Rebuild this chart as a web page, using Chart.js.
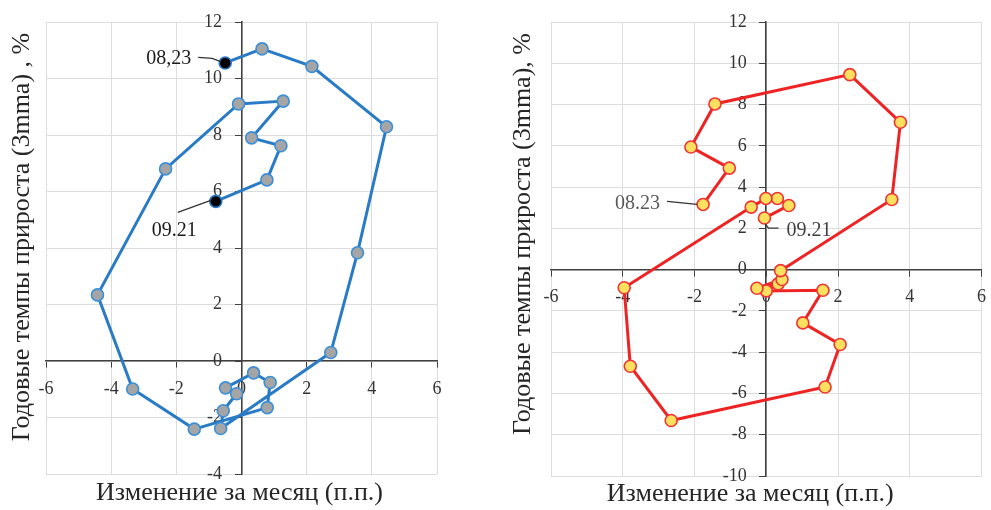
<!DOCTYPE html>
<html>
<head>
<meta charset="utf-8">
<script src="https://cdn.jsdelivr.net/npm/chart.js@4.4.1/dist/chart.umd.min.js"></script>
<style>
  body { margin: 0; background: #fff; width: 991px; height: 510px; overflow: hidden; position: relative; }
  .panel { position: absolute; top: 0; height: 510px; }
  #left { left: 0; width: 480px; }
  #right { left: 500px; width: 497px; }
</style>
</head>
<body>
<div class="panel" id="left"><canvas id="chartLeft"></canvas></div>
<div class="panel" id="right"><canvas id="chartRight"></canvas></div>
<script>
// left panel: 09.21 .. 08.23, x = month change (p.p.), y = annual growth (3mma)
const leftX = [-0.79, 0.78, 1.21, 0.31, 1.28, -0.09, -2.33, -4.42, -3.34, -1.45, 0.79, 0.88, 0.37,
  -0.49, -0.15, -0.56, -0.64, 2.74, 3.56, 4.45, 2.16, 0.63, -0.50];
const leftY = [5.65, 6.41, 7.62, 7.90, 9.20, 9.10, 6.80, 2.34, -0.99, -2.41, -1.65, -0.76, -0.42,
  -0.95, -1.16, -1.76, -2.39, 0.30, 3.83, 8.29, 10.43, 11.05, 10.55];

// right panel
const rightX = [-0.05, 0.63, 0.31, -0.01, -0.42, -3.96, -3.79, -2.65, 1.64, 2.06, 1.02, 1.58, 0.00,
  0.33, -0.26, 0.44, 0.40, 3.50, 3.74, 2.33, -1.43, -2.10, -1.03, -1.76];
const rightY = [2.50, 3.11, 3.45, 3.45, 3.03, -0.88, -4.68, -7.31, -5.69, -3.63, -2.58, -1.00, -1.03,
  -0.69, -0.90, -0.48, -0.05, 3.40, 7.14, 9.45, 8.03, 5.94, 4.92, 3.16];

const xTicks = [-6, 6, 2];          // min, max, step
const leftYTicks = [-4, 12, 2];
const rightYTicks = [-10, 12, 2];

const xTitle = "Изменение за месяц (п.п.)";
const leftYTitle = "Годовые темпы прироста (3mma) , %";
const rightYTitle = "Годовые темпы прироста (3mma), %";

const SERIF = "'Liberation Serif', 'Times New Roman', serif";
// y labels of an axis placed at x=0 sit right on the line, push them off it
const Y_LABEL_GAP = "\u2007\u2007\u200A";

// titles + point callouts
const decorPlugin = {
  id: "decor",
  afterDatasetsDraw(chart, args, opts) {
    const ctx = chart.ctx;
    const area = chart.chartArea;
    const meta = chart.getDatasetMeta(0);
    ctx.save();

    (opts.notes || []).forEach((n) => {
      const pt = meta.data[n.index];
      ctx.strokeStyle = n.lineColor;
      ctx.lineWidth = 1.3;
      ctx.beginPath();
      n.path.forEach(([dx, dy], i) => {
        if (i === 0) ctx.moveTo(pt.x + dx, pt.y + dy);
        else ctx.lineTo(pt.x + dx, pt.y + dy);
      });
      ctx.stroke();
      ctx.font = "20px " + SERIF;
      ctx.fillStyle = n.color;
      ctx.textAlign = n.align;
      ctx.textBaseline = "middle";
      ctx.fillText(n.text, pt.x + n.at[0], pt.y + n.at[1]);
    });
    ctx.restore();

    ctx.save();
    ctx.fillStyle = "#262626";
    ctx.textAlign = "center";
    ctx.textBaseline = "middle";
    ctx.font = opts.xFont + "px " + SERIF;
    ctx.fillText(opts.xTitle, (area.left + area.right) / 2 + opts.xShift, area.bottom + opts.xGap);
    ctx.font = opts.yFont + "px " + SERIF;
    ctx.translate(opts.yX, (area.top + area.bottom) / 2 + opts.yShift);
    ctx.rotate(-Math.PI / 2);
    ctx.fillText(opts.yTitle, 0, 0);
    ctx.restore();
  }
};

function axisCfg(ticks, pos) {
  const isX = pos.y !== undefined;
  return {
    type: "linear",
    min: ticks[0],
    max: ticks[1],
    position: pos,
    ticks: {
      stepSize: ticks[2],
      autoSkip: false,
      maxRotation: 0,
      color: "#333",
      padding: 11,
      font: { family: SERIF, size: 18 },
      callback: (v) => isX ? String(v) : v + Y_LABEL_GAP
    },
    grid: { color: "#dcdcdc", lineWidth: 1, tickColor: "#404040", tickLength: 6 },
    border: { color: "#404040", width: 1.6 }
  };
}

function makeChart(id, xs, ys, yTicks, look, padding, decor) {
  const points = xs.map((x, i) => ({ x, y: ys[i] }));
  return new Chart(document.getElementById(id), {
    type: "line",
    data: {
      datasets: [{
        data: points,
        borderColor: look.line,
        borderWidth: 3,
        tension: 0,
        pointRadius: 6,
        pointBorderWidth: 1.6,
        pointBackgroundColor: points.map((p, i) => look.dark.includes(i) ? "#000" : look.fill),
        pointBorderColor: points.map((p, i) => look.dark.includes(i) ? look.line : look.rim)
      }]
    },
    options: {
      responsive: true,
      maintainAspectRatio: false,
      animation: false,
      layout: { padding },
      plugins: { legend: { display: false }, tooltip: { enabled: false }, decor },
      scales: {
        x: axisCfg(xTicks, { y: 0 }),
        y: axisCfg(yTicks, { x: 0 })
      }
    },
    plugins: [decorPlugin]
  });
}

makeChart("chartLeft", leftX, leftY, leftYTicks,
  { line: "#2a7bc6", fill: "#a5a5a5", rim: "#3b8fd8", dark: [0, leftX.length - 1] },
  { top: 22, left: 46, right: 43, bottom: 36 },
  {
    xTitle, yTitle: leftYTitle, xFont: 26, yFont: 26,
    xShift: -2, xGap: 19, yX: 22, yShift: -11,
    notes: [
      { index: leftX.length - 1, text: "08,23", align: "right", at: [-34, -4], color: "#1a1a1a",
        lineColor: "#333", path: [[-27, -5.5], [-13, -4.5], [-4, -1]] },
      { index: 0, text: "09.21", align: "left", at: [-64, 29], color: "#1a1a1a",
        lineColor: "#333", path: [[-38, 11], [-5, -1]] }
    ]
  });

makeChart("chartRight", rightX, rightY, rightYTicks,
  { line: "#ee2424", fill: "#ffdf5e", rim: "#f03434", dark: [] },
  { top: 22, left: 51, right: 5, bottom: 34 },
  {
    xTitle, yTitle: rightYTitle, xFont: 26, yFont: 26,
    xShift: -16, xGap: 18, yX: 23, yShift: -15,
    notes: [
      { index: rightX.length - 1, text: "08.23", align: "right", at: [-43, -1], color: "#595959",
        lineColor: "#333", path: [[-36, -3], [-6, 0]] },
      { index: 0, text: "09.21", align: "left", at: [22, 13], color: "#404040",
        lineColor: "#333", path: [[1, 6], [4, 10], [14, 10]] }
    ]
  });
</script>
</body>
</html>
